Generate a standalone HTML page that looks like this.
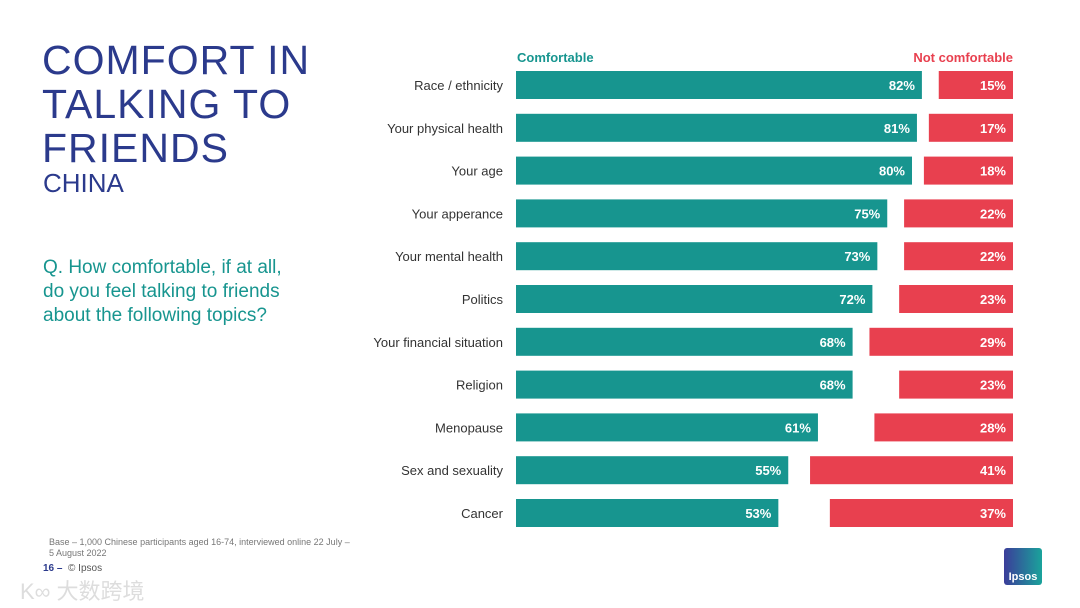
<!DOCTYPE html>
<html><head><meta charset="utf-8"><style>
body{margin:0;width:1080px;height:608px;background:#fff;font-family:"Liberation Sans",sans-serif;position:relative;overflow:hidden}
.t{position:absolute}
</style></head><body>
<div class="t" style="left:42px;top:38px;color:#2b3a8c;font-size:41px;letter-spacing:1px;line-height:44px;">COMFORT IN<br>TALKING TO<br>FRIENDS</div>
<div class="t" style="left:43px;top:168px;color:#2b3a8c;font-size:26px;">CHINA</div>
<div class="t" style="left:43px;top:256px;color:#17958f;font-size:19px;line-height:24px;">Q. How comfortable, if at all,<br>do you feel talking to friends<br>about the following topics?</div>
<div class="t" style="left:49px;top:537px;color:#777;font-size:9px;line-height:11px;">Base – 1,000 Chinese participants aged 16-74, interviewed online 22 July –<br>5 August 2022</div>
<div class="t" style="left:43px;top:563px;color:#555;font-size:10px;"><b style="color:#2b3a8c">16 –</b>&nbsp; © Ipsos</div>
<div class="t" style="left:20px;top:574px;color:#ddd;font-size:22px;font-family:'Liberation Sans','Noto Sans CJK SC',sans-serif;">K∞ 大数跨境</div>
<div class="t" style="left:1004px;top:548px;width:38px;height:37px;border-radius:3px;background:linear-gradient(90deg,#3b3d9a,#1aa39b);color:#fff;font-size:11px;font-weight:bold;text-align:center;line-height:58px;">Ipsos</div>
<svg id="chart" width="1080" height="608" style="position:absolute;left:0;top:0">
<text x="517" y="62" fill="#17958f" font-size="13" font-weight="bold">Comfortable</text>
<text x="1013" y="62" fill="#e8404f" font-size="13" font-weight="bold" text-anchor="end">Not comfortable</text>
</svg>
<script>
const categories=["Race / ethnicity","Your physical health","Your age","Your apperance","Your mental health","Politics","Your financial situation","Religion","Menopause","Sex and sexuality","Cancer"];
const comfortable=[82,81,80,75,73,72,68,68,61,55,53];
const notComfortable=[15,17,18,22,22,23,29,23,28,41,37];
const svg=document.getElementById('chart');const NS='http://www.w3.org/2000/svg';
const x0=516,xr=1013,k=4.95,y0=71,step=42.8,h=28;
function xs(v){return v*k;}
function mk(t,a){const e=document.createElementNS(NS,t);for(const n in a)e.setAttribute(n,a[n]);svg.appendChild(e);return e;}
categories.forEach((c,i)=>{
 const y=y0+i*step;
 const l=mk('text',{x:503,y:y+h/2+5,'text-anchor':'end','font-size':13,fill:'#333'});l.textContent=c;
 
 
 const w=xs(comfortable[i]);
 const b=mk('rect',{x:x0,y:y,width:w,height:h,fill:'#17958f'});
 
 
 const t=mk('text',{x:x0+w-7,y:y+h/2+5,'text-anchor':'end','font-size':13,'font-weight':'bold',fill:'#fff'});t.textContent=comfortable[i]+'%';
 
 
 const w2=xs(notComfortable[i]);
 const b2=mk('rect',{x:xr-w2,y:y,width:w2,height:h,fill:'#e8404f'});
 
 
 const t2=mk('text',{x:xr-7,y:y+h/2+5,'text-anchor':'end','font-size':13,'font-weight':'bold',fill:'#fff'});t2.textContent=notComfortable[i]+'%';
 
 
});
</script>
</body></html>
